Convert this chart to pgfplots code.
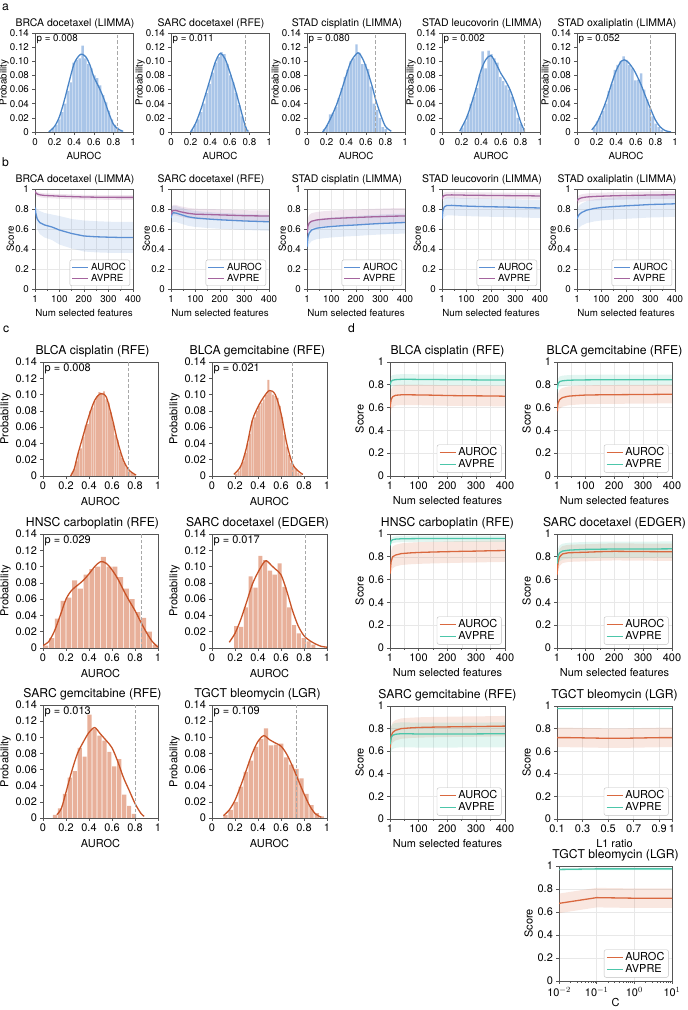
\documentclass[border=0pt]{standalone}
\usepackage{fontspec}
\setmainfont{TeX Gyre Heros}
\usepackage{pgfplots}
\pgfplotsset{compat=1.18}

\definecolor{hblue}{HTML}{A9C5E8}
\definecolor{kblue}{HTML}{4A85C7}
\definecolor{horange}{HTML}{E8B09A}
\definecolor{korange}{HTML}{C85428}
\definecolor{bblue}{HTML}{5B8FD3}
\definecolor{bpurp}{HTML}{A5649E}
\definecolor{dorange}{HTML}{D9683F}
\definecolor{dteal}{HTML}{4CC6AA}
\definecolor{dashg}{HTML}{A8A8A8}
\definecolor{framec}{HTML}{555555}

\newcommand\fsA{\fontsize{9.8}{11}\selectfont}
\newcommand\fsAT{\fontsize{10.5}{12}\selectfont}
\newcommand\fsC{\fontsize{11}{12.5}\selectfont}
\newcommand\fsCT{\fontsize{12.2}{14}\selectfont}

\pgfplotsset{
  /pgf/number format/assume math mode=true,
  every axis title shift=0pt,
  base/.style={
    scale only axis,
    axis line style={framec, line width=0.7bp},
    tick style={framec, line width=0.6bp},
    major tick length=2.6bp, minor tick length=1.6bp,
    tick align=outside, xtick pos=left, ytick pos=left,
    anchor=north west,
    ylabel style={inner sep=1.2bp},
  },
  smallf/.style={base,
    tick label style={font=\fsA},
    label style={font=\fsA},
    title style={font=\fsAT, at={(0.5,1)}, anchor=south, inner sep=2bp, yshift=2bp, xshift=-9bp},
    width=98bp, height=99bp,
    legend style={font=\fsA},
    ylabel shift=-3.5bp,
  },
  bigf/.style={base,
    tick label style={font=\fsC},
    label style={font=\fsC},
    title style={font=\fsCT, at={(0.5,1)}, anchor=south, inner sep=2bp, yshift=3bp},
    width=115bp, height=114bp,
    legend style={font=\fsC},
  },
  hist/.style={
    xmin=0, xmax=1, ymin=0, ymax=0.14,
    xtick={0,0.2,0.4,0.6,0.8,1}, xticklabels={0,0.2,0.4,0.6,0.8,1},
    ytick={0,0.02,0.04,0.06,0.08,0.1,0.12,0.14},
    yticklabels={0,0.02,0.04,0.06,0.08,0.10,0.12,0.14},
    xlabel={AUROC}, ylabel={Probability},
  },
  score/.style={
    xmin=1, xmax=400, ymin=0, ymax=1,
    xtick={1,100,200,300,400}, xticklabels={1,100,200,300,400},
    minor xtick={50,150,250,350},
    ytick={0,0.2,0.4,0.6,0.8,1}, yticklabels={0,0.2,0.4,0.6,0.8,1},
    xlabel={Num selected features}, ylabel={Score},
    grid=both, major grid style={black!9, line width=0.4bp}, minor grid style={black!9, line width=0.4bp},
    legend style={at={(0.97,0.03)}, anchor=south east, draw=black!25, rounded corners=2bp, fill=white, inner xsep=2bp, inner ysep=1bp, row sep=-1.5bp, cells={anchor=west}},
    legend image code/.code={\draw[##1, line width=1.3bp] (0bp,0bp) -- (16bp,0bp);},
  },
  hbar/.style={ybar, bar shift=0pt, bar width=#1, draw=none},
  kde/.style={smooth, line width=1.3bp},
  vl/.style={dashg, line width=0.9bp, dash pattern=on 3.5bp off 2bp},
  band/.style={fill=#1, fill opacity=0.16, draw=none, forget plot},
  ln/.style={#1, line width=1.3bp},
}
\newcommand\pA[1]{\node[anchor=north west, font=\fsA, inner sep=1.5bp] at (rel axis cs:0,1) {#1};}
\newcommand\pC[1]{\node[anchor=north west, font=\fsC, inner sep=1.5bp] at (rel axis cs:0,1) {#1};}

\begin{document}
\begin{tikzpicture}
\path[use as bounding box] (0,0) rectangle (688bp,1010bp);
\node[font=\fsCT, anchor=west, inner sep=0pt] at (2bp,1003bp) {a};
\node[font=\fsCT, anchor=west, inner sep=0pt] at (2bp,848bp) {b};
\node[font=\fsCT, anchor=west, inner sep=0pt] at (3bp,681bp) {c};
\node[font=\fsCT, anchor=west, inner sep=0pt] at (348bp,682bp) {d};

% ---------------- panel a ----------------
\begin{axis}[smallf, hist, at={(35bp,977bp)}, title={BRCA docetaxel (LIMMA)}]
\addplot[hbar=2.45bp, fill=hblue] coordinates {(0.155,0.002)(0.185,0.005)(0.215,0.010)(0.245,0.018)(0.275,0.028)(0.305,0.040)(0.335,0.058)(0.365,0.070)(0.395,0.098)(0.425,0.102)(0.455,0.104)(0.485,0.122)(0.515,0.104)(0.545,0.096)(0.575,0.090)(0.605,0.080)(0.635,0.076)(0.665,0.066)(0.695,0.052)(0.725,0.042)(0.755,0.030)(0.785,0.018)(0.815,0.010)(0.845,0.006)(0.875,0.002)};
\addplot[kde, kblue] coordinates {(0.14,0)(0.2,0.008)(0.25,0.022)(0.3,0.045)(0.35,0.072)(0.4,0.097)(0.45,0.108)(0.48,0.110)(0.52,0.106)(0.56,0.095)(0.6,0.078)(0.65,0.064)(0.7,0.048)(0.75,0.028)(0.8,0.011)(0.85,0.004)(0.9,0.001)};
\addplot[vl] coordinates {(0.84,0)(0.84,0.14)};
\pA{p = 0.008}
\end{axis}

\begin{axis}[smallf, hist, at={(171bp,977bp)}, title={SARC docetaxel (RFE)}]
\addplot[hbar=2.45bp, fill=hblue] coordinates {(0.215,0.003)(0.245,0.010)(0.275,0.018)(0.305,0.028)(0.335,0.040)(0.365,0.055)(0.395,0.068)(0.425,0.084)(0.455,0.098)(0.485,0.106)(0.515,0.113)(0.545,0.110)(0.575,0.096)(0.605,0.080)(0.635,0.070)(0.665,0.055)(0.695,0.038)(0.725,0.022)(0.755,0.010)(0.785,0.003)};
\addplot[kde, kblue] coordinates {(0.2,0)(0.25,0.012)(0.3,0.030)(0.35,0.052)(0.4,0.075)(0.45,0.098)(0.5,0.111)(0.55,0.104)(0.6,0.085)(0.65,0.063)(0.7,0.038)(0.75,0.012)(0.78,0.001)};
\addplot[vl] coordinates {(0.76,0)(0.76,0.14)};
\pA{p = 0.011}
\end{axis}

\begin{axis}[smallf, hist, at={(307bp,977bp)}, title={STAD cisplatin (LIMMA)}]
\addplot[hbar=2.45bp, fill=hblue] coordinates {(0.175,0.004)(0.205,0.010)(0.235,0.025)(0.265,0.027)(0.295,0.035)(0.325,0.048)(0.355,0.062)(0.385,0.078)(0.415,0.088)(0.445,0.100)(0.475,0.104)(0.505,0.124)(0.535,0.112)(0.565,0.096)(0.595,0.096)(0.625,0.089)(0.655,0.064)(0.685,0.040)(0.715,0.031)(0.745,0.020)(0.775,0.007)(0.805,0.004)};
\addplot[kde, kblue] coordinates {(0.16,0)(0.2,0.008)(0.25,0.022)(0.3,0.038)(0.35,0.058)(0.4,0.080)(0.45,0.100)(0.52,0.112)(0.57,0.103)(0.62,0.085)(0.67,0.062)(0.7,0.046)(0.75,0.025)(0.8,0.008)(0.86,0.001)};
\addplot[vl] coordinates {(0.70,0)(0.70,0.14)};
\pA{p = 0.080}
\end{axis}

\begin{axis}[smallf, hist, at={(442bp,977bp)}, title={STAD leucovorin (LIMMA)}]
\addplot[hbar=2.45bp, fill=hblue] coordinates {(0.205,0.006)(0.235,0.015)(0.265,0.025)(0.295,0.040)(0.325,0.050)(0.355,0.062)(0.385,0.081)(0.415,0.114)(0.445,0.090)(0.475,0.115)(0.505,0.110)(0.535,0.104)(0.565,0.098)(0.595,0.078)(0.625,0.072)(0.655,0.066)(0.685,0.060)(0.715,0.050)(0.745,0.035)(0.775,0.020)(0.805,0.012)(0.835,0.004)};
\addplot[kde, kblue] coordinates {(0.18,0.001)(0.25,0.02)(0.3,0.04)(0.35,0.063)(0.4,0.088)(0.45,0.103)(0.5,0.108)(0.55,0.097)(0.6,0.083)(0.65,0.072)(0.7,0.058)(0.75,0.038)(0.8,0.015)(0.84,0.002)};
\addplot[vl] coordinates {(0.84,0)(0.84,0.14)};
\pA{p = 0.002}
\end{axis}

\begin{axis}[smallf, hist, at={(577bp,977bp)}, title={STAD oxaliplatin (LIMMA)}]
\addplot[hbar=2.45bp, fill=hblue] coordinates {(0.175,0.006)(0.205,0.015)(0.235,0.022)(0.265,0.030)(0.295,0.040)(0.325,0.058)(0.355,0.068)(0.385,0.088)(0.415,0.095)(0.445,0.100)(0.475,0.107)(0.505,0.102)(0.535,0.095)(0.565,0.090)(0.595,0.073)(0.625,0.074)(0.655,0.083)(0.685,0.060)(0.715,0.046)(0.745,0.033)(0.775,0.022)(0.805,0.012)(0.835,0.007)(0.865,0.003)};
\addplot[kde, kblue] coordinates {(0.15,0.003)(0.2,0.012)(0.25,0.027)(0.3,0.045)(0.35,0.067)(0.4,0.087)(0.45,0.1)(0.48,0.102)(0.52,0.099)(0.58,0.088)(0.65,0.068)(0.7,0.05)(0.75,0.033)(0.8,0.017)(0.85,0.007)(0.9,0.002)(0.96,0)};
\addplot[vl] coordinates {(0.75,0)(0.75,0.14)};
\pA{p = 0.052}
\end{axis}

% ---------------- panel b ----------------
\begin{axis}[smallf, score, height=100bp, at={(35bp,821bp)}, title={BRCA docetaxel (LIMMA)}]
\addplot[band=bblue] coordinates {(1,0.86)(5,0.82)(10,0.80)(20,0.78)(40,0.76)(70,0.745)(100,0.73)(150,0.70)(200,0.685)(250,0.678)(300,0.673)(350,0.67)(400,0.67)(400,0.36)(350,0.36)(300,0.362)(250,0.366)(200,0.375)(150,0.405)(100,0.445)(70,0.49)(40,0.515)(20,0.55)(10,0.60)(5,0.68)(1,0.77)};
\addplot[band=bpurp] coordinates {(1,0.995)(5,0.982)(10,0.972)(20,0.964)(40,0.957)(70,0.954)(100,0.95)(150,0.946)(200,0.942)(250,0.94)(300,0.939)(350,0.938)(400,0.938)(400,0.891)(350,0.891)(300,0.892)(250,0.893)(200,0.895)(150,0.899)(100,0.903)(70,0.907)(40,0.91)(20,0.917)(10,0.925)(5,0.935)(1,0.95)};
\addplot[ln=bblue] coordinates {(1,0.815)(5,0.75)(10,0.70)(20,0.665)(40,0.64)(70,0.62)(100,0.59)(150,0.555)(200,0.53)(250,0.522)(300,0.518)(350,0.515)(400,0.515)};
\addplot[ln=bpurp] coordinates {(1,0.975)(5,0.96)(10,0.95)(20,0.942)(40,0.935)(70,0.932)(100,0.928)(150,0.924)(200,0.92)(250,0.918)(300,0.917)(350,0.916)(400,0.916)};
\legend{AUROC,AVPRE}
\end{axis}

\begin{axis}[smallf, score, height=100bp, at={(171bp,821bp)}, title={SARC docetaxel (RFE)}]
\addplot[band=bblue] coordinates {(1,0.78)(5,0.82)(10,0.832)(20,0.83)(40,0.815)(70,0.792)(100,0.78)(150,0.77)(200,0.762)(250,0.756)(300,0.75)(350,0.746)(400,0.742)(400,0.582)(350,0.586)(300,0.59)(250,0.596)(200,0.602)(150,0.61)(100,0.62)(70,0.632)(40,0.655)(20,0.67)(10,0.672)(5,0.66)(1,0.62)};
\addplot[band=bpurp] coordinates {(1,0.80)(5,0.83)(10,0.84)(20,0.841)(40,0.827)(70,0.812)(100,0.803)(150,0.80)(200,0.796)(250,0.792)(300,0.788)(350,0.786)(400,0.785)(400,0.68)(350,0.681)(300,0.683)(250,0.687)(200,0.691)(150,0.695)(100,0.698)(70,0.707)(40,0.722)(20,0.736)(10,0.735)(5,0.725)(1,0.695)};
\addplot[ln=bblue] coordinates {(1,0.71)(5,0.75)(10,0.762)(20,0.76)(40,0.745)(70,0.722)(100,0.71)(150,0.70)(200,0.692)(250,0.686)(300,0.68)(350,0.676)(400,0.672)};
\addplot[ln=bpurp] coordinates {(1,0.745)(5,0.775)(10,0.785)(20,0.786)(40,0.772)(70,0.757)(100,0.748)(150,0.745)(200,0.741)(250,0.737)(300,0.733)(350,0.731)(400,0.73)};
\legend{AUROC,AVPRE}
\end{axis}

\begin{axis}[smallf, score, height=100bp, at={(307bp,821bp)}, title={STAD cisplatin (LIMMA)}]
\addplot[band=bblue] coordinates {(1,0.51)(5,0.61)(10,0.65)(20,0.68)(40,0.698)(70,0.708)(100,0.715)(150,0.724)(200,0.73)(250,0.738)(300,0.745)(350,0.75)(400,0.755)(400,0.555)(350,0.55)(300,0.545)(250,0.538)(200,0.53)(150,0.524)(100,0.515)(70,0.508)(40,0.498)(20,0.48)(10,0.45)(5,0.41)(1,0.31)};
\addplot[band=bpurp] coordinates {(1,0.64)(5,0.71)(10,0.74)(20,0.758)(40,0.77)(70,0.778)(100,0.784)(150,0.79)(200,0.795)(250,0.80)(300,0.804)(350,0.808)(400,0.81)(400,0.66)(350,0.658)(300,0.654)(250,0.65)(200,0.645)(150,0.64)(100,0.634)(70,0.628)(40,0.62)(20,0.608)(10,0.59)(5,0.56)(1,0.49)};
\addplot[ln=bblue] coordinates {(1,0.42)(5,0.52)(10,0.56)(20,0.59)(40,0.608)(70,0.618)(100,0.625)(150,0.634)(200,0.64)(250,0.648)(300,0.655)(350,0.66)(400,0.665)};
\addplot[ln=bpurp] coordinates {(1,0.56)(5,0.63)(10,0.66)(20,0.678)(40,0.69)(70,0.698)(100,0.704)(150,0.71)(200,0.715)(250,0.72)(300,0.724)(350,0.728)(400,0.73)};
\legend{AUROC,AVPRE}
\end{axis}

\begin{axis}[smallf, score, height=100bp, at={(442bp,821bp)}, title={STAD leucovorin (LIMMA)}]
\addplot[band=bblue] coordinates {(1,0.78)(5,0.865)(10,0.9)(20,0.915)(40,0.916)(70,0.912)(100,0.909)(150,0.905)(200,0.902)(250,0.9)(300,0.897)(350,0.893)(400,0.89)(400,0.71)(350,0.713)(300,0.717)(250,0.72)(200,0.722)(150,0.725)(100,0.729)(70,0.732)(40,0.736)(20,0.735)(10,0.72)(5,0.685)(1,0.60)};
\addplot[band=bpurp] coordinates {(1,0.93)(5,0.955)(10,0.965)(20,0.97)(40,0.971)(70,0.97)(100,0.968)(150,0.967)(200,0.965)(250,0.964)(300,0.963)(350,0.962)(400,0.96)(400,0.895)(350,0.897)(300,0.898)(250,0.899)(200,0.9)(150,0.902)(100,0.903)(70,0.905)(40,0.906)(20,0.905)(10,0.9)(5,0.89)(1,0.865)};
\addplot[ln=bblue] coordinates {(1,0.70)(5,0.785)(10,0.82)(20,0.835)(40,0.836)(70,0.832)(100,0.829)(150,0.825)(200,0.822)(250,0.82)(300,0.817)(350,0.813)(400,0.81)};
\addplot[ln=bpurp] coordinates {(1,0.90)(5,0.925)(10,0.935)(20,0.94)(40,0.941)(70,0.94)(100,0.938)(150,0.937)(200,0.935)(250,0.934)(300,0.933)(350,0.932)(400,0.93)};
\legend{AUROC,AVPRE}
\end{axis}

\begin{axis}[smallf, score, height=100bp, at={(577bp,821bp)}, title={STAD oxaliplatin (LIMMA)}]
\addplot[band=bblue] coordinates {(1,0.79)(5,0.815)(10,0.835)(20,0.855)(40,0.878)(70,0.895)(100,0.905)(150,0.915)(200,0.922)(250,0.928)(300,0.935)(350,0.938)(400,0.942)(400,0.722)(350,0.718)(300,0.715)(250,0.708)(200,0.702)(150,0.695)(100,0.685)(70,0.675)(40,0.658)(20,0.635)(10,0.615)(5,0.595)(1,0.57)};
\addplot[band=bpurp] coordinates {(1,0.915)(5,0.928)(10,0.938)(20,0.947)(40,0.955)(70,0.96)(100,0.963)(150,0.967)(200,0.97)(250,0.972)(300,0.975)(350,0.976)(400,0.977)(400,0.902)(350,0.901)(300,0.9)(250,0.897)(200,0.895)(150,0.892)(100,0.888)(70,0.885)(40,0.88)(20,0.872)(10,0.863)(5,0.853)(1,0.84)};
\addplot[ln=bblue] coordinates {(1,0.70)(5,0.725)(10,0.745)(20,0.765)(40,0.788)(70,0.805)(100,0.815)(150,0.825)(200,0.832)(250,0.838)(300,0.845)(350,0.848)(400,0.852)};
\addplot[ln=bpurp] coordinates {(1,0.88)(5,0.893)(10,0.903)(20,0.912)(40,0.92)(70,0.925)(100,0.928)(150,0.932)(200,0.935)(250,0.937)(300,0.94)(350,0.941)(400,0.942)};
\legend{AUROC,AVPRE}
\end{axis}

% ---------------- panel c ----------------
\begin{axis}[bigf, hist, at={(43bp,648bp)}, title={BLCA cisplatin (RFE)}, title style={xshift=-8bp}]
\addplot[hbar=1.9bp, fill=horange] coordinates {(0.25,0.004)(0.27,0.008)(0.29,0.018)(0.31,0.030)(0.33,0.034)(0.35,0.048)(0.37,0.062)(0.39,0.064)(0.41,0.080)(0.43,0.084)(0.45,0.092)(0.47,0.098)(0.49,0.103)(0.51,0.102)(0.53,0.104)(0.55,0.094)(0.57,0.090)(0.59,0.078)(0.61,0.066)(0.63,0.050)(0.65,0.044)(0.67,0.030)(0.69,0.022)(0.71,0.016)(0.73,0.010)(0.75,0.006)(0.77,0.004)(0.79,0.002)};
\addplot[kde, korange] coordinates {(0.24,0)(0.27,0.008)(0.3,0.025)(0.35,0.05)(0.4,0.074)(0.45,0.093)(0.5,0.101)(0.55,0.097)(0.6,0.072)(0.65,0.042)(0.7,0.019)(0.75,0.007)(0.81,0.001)};
\addplot[vl] coordinates {(0.745,0)(0.745,0.14)};
\pC{p = 0.008}
\end{axis}

\begin{axis}[bigf, hist, at={(212bp,648bp)}, title={BLCA gemcitabine (RFE)}, title style={xshift=-12bp}]
\addplot[hbar=1.9bp, fill=horange] coordinates {(0.21,0.003)(0.23,0.006)(0.25,0.012)(0.27,0.018)(0.29,0.028)(0.31,0.040)(0.33,0.052)(0.35,0.068)(0.37,0.072)(0.39,0.080)(0.41,0.086)(0.43,0.090)(0.45,0.094)(0.47,0.100)(0.49,0.118)(0.51,0.104)(0.53,0.100)(0.55,0.098)(0.57,0.096)(0.59,0.086)(0.61,0.072)(0.63,0.050)(0.65,0.036)(0.67,0.026)(0.69,0.016)(0.71,0.012)(0.73,0.008)(0.75,0.004)(0.77,0.002)};
\addplot[kde, korange] coordinates {(0.19,0.002)(0.25,0.012)(0.3,0.035)(0.35,0.068)(0.4,0.085)(0.45,0.097)(0.5,0.105)(0.55,0.100)(0.6,0.077)(0.65,0.04)(0.7,0.015)(0.75,0.006)(0.79,0.002)};
\addplot[vl] coordinates {(0.70,0)(0.70,0.14)};
\pC{p = 0.021}
\end{axis}

\begin{axis}[bigf, hist, at={(43bp,476bp)}, title={HNSC carboplatin (RFE)}, title style={xshift=-8bp}]
\addplot[hbar=5bp, fill=horange] coordinates {(0.025,0.003)(0.075,0.012)(0.125,0.036)(0.175,0.058)(0.225,0.062)(0.275,0.083)(0.325,0.073)(0.375,0.090)(0.425,0.097)(0.475,0.100)(0.525,0.112)(0.575,0.100)(0.625,0.100)(0.675,0.087)(0.725,0.073)(0.775,0.060)(0.825,0.044)(0.875,0.037)(0.925,0.020)(0.975,0.004)};
\addplot[kde, korange] coordinates {(0,0.003)(0.05,0.008)(0.1,0.021)(0.15,0.04)(0.2,0.06)(0.25,0.071)(0.3,0.077)(0.35,0.083)(0.4,0.091)(0.45,0.1)(0.5,0.106)(0.55,0.104)(0.6,0.096)(0.65,0.085)(0.7,0.071)(0.75,0.058)(0.8,0.046)(0.85,0.032)(0.9,0.019)(0.95,0.008)(1,0.001)};
\addplot[vl] coordinates {(0.855,0)(0.855,0.14)};
\pC{p = 0.029}
\end{axis}

\begin{axis}[bigf, hist, at={(212bp,476bp)}, title={SARC docetaxel (EDGER)}, title style={xshift=-12bp}]
\addplot[hbar=4.1bp, fill=horange] coordinates {(0.210,0.027)(0.252,0.026)(0.294,0.050)(0.336,0.088)(0.378,0.074)(0.420,0.113)(0.462,0.108)(0.504,0.095)(0.546,0.090)(0.588,0.104)(0.630,0.075)(0.672,0.050)(0.714,0.028)(0.756,0.018)(0.798,0.012)(0.840,0.008)(0.882,0.004)};
\addplot[kde, korange] coordinates {(0.15,0.007)(0.2,0.018)(0.25,0.035)(0.3,0.056)(0.35,0.078)(0.4,0.093)(0.45,0.105)(0.475,0.107)(0.52,0.101)(0.55,0.097)(0.6,0.09)(0.65,0.07)(0.7,0.046)(0.75,0.027)(0.8,0.015)(0.85,0.009)(0.9,0.005)(0.95,0.002)(1,0.001)};
\addplot[vl] coordinates {(0.814,0)(0.814,0.14)};
\pC{p = 0.017}
\end{axis}

\begin{axis}[bigf, hist, height=113bp, at={(43bp,305bp)}, title={SARC gemcitabine (RFE)}, title style={xshift=-8bp}]
\addplot[hbar=4.2bp, fill=horange] coordinates {(0.104,0.004)(0.147,0.012)(0.190,0.030)(0.233,0.050)(0.276,0.058)(0.319,0.087)(0.362,0.076)(0.405,0.128)(0.448,0.110)(0.491,0.102)(0.534,0.096)(0.577,0.082)(0.620,0.064)(0.663,0.073)(0.706,0.029)(0.749,0.015)(0.792,0.005)};
\addplot[kde, korange] coordinates {(0.12,0.004)(0.16,0.012)(0.2,0.032)(0.25,0.058)(0.3,0.08)(0.35,0.094)(0.4,0.106)(0.45,0.112)(0.5,0.104)(0.55,0.096)(0.6,0.087)(0.65,0.07)(0.7,0.05)(0.75,0.034)(0.8,0.018)(0.85,0.006)(0.88,0.002)};
\addplot[vl] coordinates {(0.80,0)(0.80,0.14)};
\pC{p = 0.013}
\end{axis}

\begin{axis}[bigf, hist, height=113bp, at={(212bp,305bp)}, title={TGCT bleomycin (LGR)}, title style={xshift=-12bp}]
\addplot[hbar=4.3bp, fill=horange] coordinates {(0.118,0.004)(0.162,0.010)(0.206,0.020)(0.250,0.039)(0.294,0.057)(0.338,0.071)(0.382,0.088)(0.426,0.098)(0.470,0.111)(0.514,0.090)(0.558,0.091)(0.602,0.092)(0.646,0.075)(0.690,0.066)(0.734,0.061)(0.778,0.049)(0.822,0.030)(0.866,0.016)(0.910,0.006)(0.954,0.002)};
\addplot[kde, korange] coordinates {(0.1,0.003)(0.15,0.01)(0.2,0.022)(0.25,0.04)(0.3,0.06)(0.35,0.08)(0.4,0.095)(0.45,0.102)(0.5,0.097)(0.55,0.093)(0.6,0.089)(0.65,0.079)(0.7,0.064)(0.75,0.047)(0.8,0.03)(0.85,0.015)(0.9,0.005)(0.95,0.001)};
\addplot[vl] coordinates {(0.73,0)(0.73,0.14)};
\pC{p = 0.109}
\end{axis}

% ---------------- panel d ----------------
\begin{axis}[bigf, score, at={(390bp,648bp)}, title={BLCA cisplatin (RFE)}]
\addplot[band=dorange] coordinates {(1,0.69)(5,0.76)(10,0.785)(20,0.798)(40,0.802)(70,0.802)(100,0.801)(150,0.799)(200,0.796)(250,0.794)(300,0.793)(350,0.792)(400,0.79)(400,0.61)(350,0.612)(300,0.613)(250,0.614)(200,0.616)(150,0.619)(100,0.621)(70,0.622)(40,0.622)(20,0.618)(10,0.605)(5,0.58)(1,0.51)};
\addplot[band=dteal] coordinates {(1,0.845)(5,0.875)(10,0.885)(20,0.89)(40,0.893)(70,0.893)(100,0.892)(150,0.891)(200,0.89)(250,0.889)(300,0.888)(350,0.887)(400,0.887)(400,0.792)(350,0.792)(300,0.793)(250,0.794)(200,0.795)(150,0.796)(100,0.797)(70,0.798)(40,0.798)(20,0.795)(10,0.79)(5,0.78)(1,0.75)};
\addplot[ln=dorange] coordinates {(1,0.60)(5,0.67)(10,0.695)(20,0.708)(40,0.712)(70,0.712)(100,0.711)(150,0.709)(200,0.706)(250,0.704)(300,0.703)(350,0.702)(400,0.70)};
\addplot[ln=dteal] coordinates {(1,0.80)(5,0.83)(10,0.84)(20,0.845)(40,0.848)(70,0.848)(100,0.847)(150,0.846)(200,0.845)(250,0.844)(300,0.843)(350,0.842)(400,0.842)};
\legend{AUROC,AVPRE}
\end{axis}

\begin{axis}[bigf, score, at={(557bp,648bp)}, title={BLCA gemcitabine (RFE)}]
\addplot[band=dorange] coordinates {(1,0.655)(5,0.725)(10,0.755)(20,0.773)(40,0.785)(70,0.791)(100,0.795)(150,0.797)(200,0.798)(250,0.799)(300,0.8)(350,0.801)(400,0.802)(400,0.637)(350,0.636)(300,0.635)(250,0.634)(200,0.633)(150,0.632)(100,0.63)(70,0.626)(40,0.62)(20,0.608)(10,0.59)(5,0.56)(1,0.49)};
\addplot[band=dteal] coordinates {(1,0.805)(5,0.855)(10,0.873)(20,0.88)(40,0.885)(70,0.887)(100,0.888)(150,0.889)(200,0.89)(250,0.89)(300,0.89)(350,0.89)(400,0.89)(400,0.8)(350,0.8)(300,0.8)(250,0.8)(200,0.8)(150,0.799)(100,0.798)(70,0.797)(40,0.795)(20,0.79)(10,0.783)(5,0.765)(1,0.715)};
\addplot[ln=dorange] coordinates {(1,0.57)(5,0.64)(10,0.67)(20,0.688)(40,0.70)(70,0.706)(100,0.71)(150,0.712)(200,0.713)(250,0.714)(300,0.715)(350,0.716)(400,0.717)};
\addplot[ln=dteal] coordinates {(1,0.76)(5,0.81)(10,0.828)(20,0.835)(40,0.84)(70,0.842)(100,0.843)(150,0.844)(200,0.845)(250,0.845)(300,0.845)(350,0.845)(400,0.845)};
\legend{AUROC,AVPRE}
\end{axis}

\begin{axis}[bigf, score, at={(390bp,476bp)}, title={HNSC carboplatin (RFE)}]
\addplot[band=dorange] coordinates {(1,0.74)(5,0.85)(10,0.89)(20,0.905)(40,0.918)(70,0.924)(100,0.928)(150,0.932)(200,0.935)(250,0.938)(300,0.94)(350,0.943)(400,0.945)(400,0.755)(350,0.753)(300,0.75)(250,0.748)(200,0.745)(150,0.742)(100,0.738)(70,0.734)(40,0.728)(20,0.715)(10,0.70)(5,0.66)(1,0.55)};
\addplot[band=dteal] coordinates {(1,0.925)(5,0.965)(10,0.975)(20,0.98)(40,0.983)(70,0.984)(100,0.985)(150,0.985)(200,0.985)(250,0.985)(300,0.985)(350,0.985)(400,0.985)(400,0.93)(350,0.93)(300,0.93)(250,0.93)(200,0.93)(150,0.93)(100,0.93)(70,0.929)(40,0.928)(20,0.925)(10,0.92)(5,0.91)(1,0.87)};
\addplot[ln=dorange] coordinates {(1,0.65)(5,0.76)(10,0.80)(20,0.815)(40,0.828)(70,0.834)(100,0.838)(150,0.842)(200,0.845)(250,0.848)(300,0.85)(350,0.853)(400,0.855)};
\addplot[ln=dteal] coordinates {(1,0.90)(5,0.94)(10,0.95)(20,0.955)(40,0.958)(70,0.959)(100,0.96)(150,0.96)(200,0.96)(250,0.96)(300,0.96)(350,0.96)(400,0.96)};
\legend{AUROC,AVPRE}
\end{axis}

\begin{axis}[bigf, score, at={(557bp,476bp)}, title={SARC docetaxel (EDGER)}]
\addplot[band=dorange] coordinates {(1,0.71)(5,0.83)(10,0.87)(20,0.895)(40,0.905)(70,0.908)(100,0.91)(150,0.915)(200,0.918)(250,0.917)(300,0.916)(350,0.915)(400,0.915)(400,0.765)(350,0.765)(300,0.766)(250,0.767)(200,0.768)(150,0.765)(100,0.76)(70,0.758)(40,0.755)(20,0.745)(10,0.72)(5,0.68)(1,0.56)};
\addplot[band=dteal] coordinates {(1,0.805)(5,0.875)(10,0.9)(20,0.915)(40,0.923)(70,0.927)(100,0.93)(150,0.932)(200,0.933)(250,0.933)(300,0.933)(350,0.934)(400,0.935)(400,0.795)(350,0.794)(300,0.793)(250,0.793)(200,0.793)(150,0.792)(100,0.79)(70,0.787)(40,0.783)(20,0.775)(10,0.76)(5,0.735)(1,0.665)};
\addplot[ln=dorange] coordinates {(1,0.64)(5,0.76)(10,0.80)(20,0.825)(40,0.835)(70,0.838)(100,0.84)(150,0.845)(200,0.848)(250,0.847)(300,0.846)(350,0.845)(400,0.845)};
\addplot[ln=dteal] coordinates {(1,0.74)(5,0.81)(10,0.835)(20,0.85)(40,0.858)(70,0.862)(100,0.865)(150,0.867)(200,0.868)(250,0.868)(300,0.868)(350,0.869)(400,0.87)};
\legend{AUROC,AVPRE}
\end{axis}

\begin{axis}[bigf, score, height=113bp, at={(390bp,304bp)}, title={SARC gemcitabine (RFE)}]
\addplot[band=dorange] coordinates {(1,0.72)(5,0.82)(10,0.855)(20,0.875)(40,0.89)(70,0.896)(100,0.9)(150,0.903)(200,0.905)(250,0.907)(300,0.908)(350,0.91)(400,0.912)(400,0.732)(350,0.73)(300,0.728)(250,0.727)(200,0.725)(150,0.723)(100,0.72)(70,0.716)(40,0.71)(20,0.695)(10,0.675)(5,0.64)(1,0.54)};
\addplot[band=dteal] coordinates {(1,0.76)(5,0.82)(10,0.84)(20,0.85)(40,0.855)(70,0.854)(100,0.852)(150,0.852)(200,0.852)(250,0.853)(300,0.853)(350,0.854)(400,0.855)(400,0.635)(350,0.634)(300,0.633)(250,0.633)(200,0.632)(150,0.632)(100,0.632)(70,0.634)(40,0.635)(20,0.63)(10,0.62)(5,0.60)(1,0.54)};
\addplot[ln=dorange] coordinates {(1,0.63)(5,0.73)(10,0.765)(20,0.785)(40,0.80)(70,0.806)(100,0.81)(150,0.813)(200,0.815)(250,0.817)(300,0.818)(350,0.82)(400,0.822)};
\addplot[ln=dteal] coordinates {(1,0.66)(5,0.72)(10,0.74)(20,0.75)(40,0.755)(70,0.754)(100,0.752)(150,0.752)(200,0.752)(250,0.753)(300,0.753)(350,0.754)(400,0.755)};
\legend{AUROC,AVPRE}
\end{axis}

\begin{axis}[bigf, score, height=113bp, at={(557bp,304bp)}, title={TGCT bleomycin (LGR)},
  xmin=0.1, xmax=1, xtick={0.1,0.3,0.5,0.7,0.9,1}, xticklabels={0.1,0.3,0.5,0.7,0.9,1},
  minor xtick={}, grid=major, xlabel={L1 ratio}]
\addplot[band=dorange] coordinates {(0.1,0.808)(0.2,0.808)(0.3,0.806)(0.4,0.804)(0.5,0.802)(0.6,0.802)(0.7,0.804)(0.8,0.806)(0.9,0.808)(1,0.808)(1,0.635)(0.9,0.635)(0.8,0.633)(0.7,0.631)(0.6,0.629)(0.5,0.629)(0.4,0.631)(0.3,0.633)(0.2,0.635)(0.1,0.635)};
\addplot[band=dteal] coordinates {(0.1,0.985)(0.4,0.985)(0.7,0.985)(1,0.985)(1,0.965)(0.7,0.965)(0.4,0.965)(0.1,0.965)};
\addplot[ln=dorange] coordinates {(0.1,0.72)(0.2,0.72)(0.3,0.718)(0.4,0.716)(0.5,0.714)(0.6,0.714)(0.7,0.716)(0.8,0.718)(0.9,0.72)(1,0.72)};
\addplot[ln=dteal] coordinates {(0.1,0.975)(0.4,0.975)(0.7,0.975)(1,0.975)};
\legend{AUROC,AVPRE}
\end{axis}

\begin{axis}[bigf, score, width=113bp, height=115bp, at={(559bp,144bp)}, title={TGCT bleomycin (LGR)},
  xmode=log, xmin=0.01, xmax=10, xtick={0.01,0.1,1,10},
  xticklabels={10$^{-2}$,10$^{-1}$,10$^{0}$,10$^{1}$},
  minor xtick={0.02,0.03,0.04,0.05,0.06,0.07,0.08,0.09,0.2,0.3,0.4,0.5,0.6,0.7,0.8,0.9,2,3,4,5,6,7,8,9},
  grid=major, xlabel={C}, xlabel style={yshift=5bp}]
\addplot[band=dorange] coordinates {(0.01,0.76)(0.1,0.81)(1,0.805)(10,0.805)(10,0.635)(1,0.635)(0.1,0.64)(0.01,0.59)};
\addplot[band=dteal] coordinates {(0.01,0.98)(0.1,0.985)(1,0.985)(10,0.985)(10,0.965)(1,0.965)(0.1,0.965)(0.01,0.96)};
\addplot[ln=dorange] coordinates {(0.01,0.675)(0.1,0.725)(1,0.72)(10,0.72)};
\addplot[ln=dteal] coordinates {(0.01,0.97)(0.1,0.975)(1,0.975)(10,0.975)};
\legend{AUROC,AVPRE}
\end{axis}
\end{tikzpicture}
\end{document}
